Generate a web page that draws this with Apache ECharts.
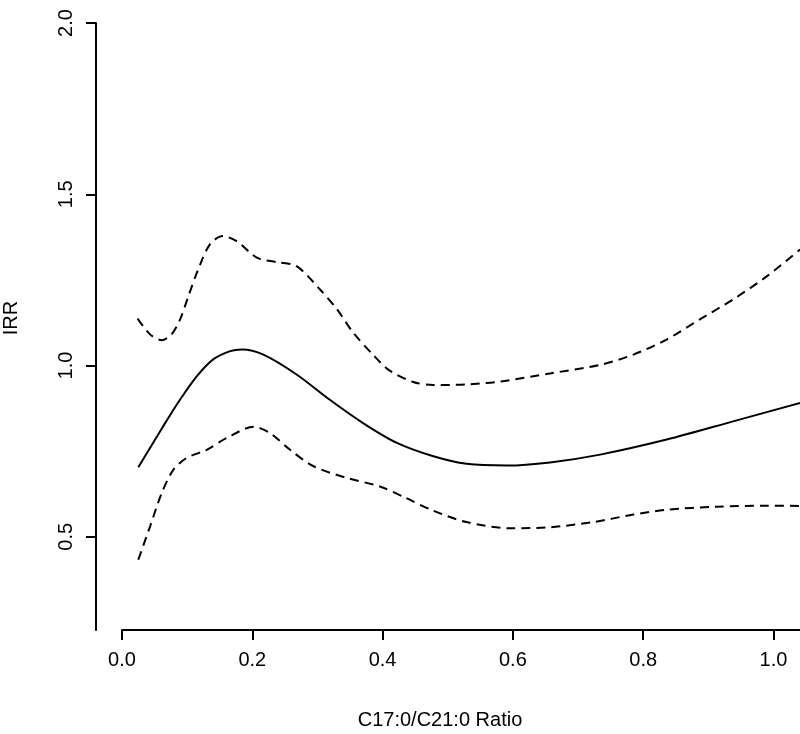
<!DOCTYPE html>
<html>
<head>
<meta charset="utf-8">
<script src="https://cdn.jsdelivr.net/npm/echarts@6/dist/echarts.min.js"></script>
<style>
html,body{margin:0;padding:0;background:#fff;}
#chart{width:800px;height:734px;}
</style>
</head>
<body>
<div id="chart"></div>
<script>
// Fitted IRR curve
const fitX = [0.025, 0.063, 0.089, 0.115, 0.140, 0.166, 0.184, 0.217, 0.268, 0.319, 0.370, 0.422, 0.478, 0.529, 0.591, 0.657, 0.734, 0.836, 0.938, 1.041];
const fitY = [0.703, 0.822, 0.900, 0.969, 1.018, 1.042, 1.047, 1.032, 0.974, 0.900, 0.832, 0.774, 0.735, 0.713, 0.708, 0.717, 0.740, 0.784, 0.837, 0.891];
// Upper confidence bound
const upperX = [0.024, 0.043, 0.061, 0.076, 0.089, 0.102, 0.117, 0.135, 0.155, 0.176, 0.207, 0.237, 0.268, 0.304, 0.330, 0.355, 0.386, 0.411, 0.447, 0.478, 0.529, 0.580, 0.657, 0.734, 0.785, 0.836, 0.887, 0.938, 0.990, 1.041];
const upperY = [1.137, 1.091, 1.074, 1.091, 1.134, 1.203, 1.281, 1.354, 1.378, 1.363, 1.315, 1.302, 1.290, 1.222, 1.164, 1.096, 1.030, 0.985, 0.952, 0.943, 0.945, 0.953, 0.977, 1.002, 1.032, 1.076, 1.135, 1.193, 1.261, 1.339];
// Lower confidence bound
const lowerX = [0.025, 0.043, 0.061, 0.079, 0.099, 0.130, 0.161, 0.202, 0.227, 0.258, 0.294, 0.345, 0.396, 0.434, 0.478, 0.529, 0.596, 0.657, 0.723, 0.785, 0.836, 0.913, 0.990, 1.041];
const lowerY = [0.433, 0.530, 0.628, 0.696, 0.730, 0.754, 0.789, 0.821, 0.803, 0.754, 0.706, 0.672, 0.647, 0.615, 0.576, 0.543, 0.525, 0.528, 0.543, 0.565, 0.579, 0.588, 0.591, 0.590];
// Tick labels
const xTicks = [0.0, 0.2, 0.4, 0.6, 0.8, 1.0];
const yTicks = [0.5, 1.0, 1.5, 2.0];
const xTitle = 'C17:0/C21:0 Ratio';
const yTitle = 'IRR';

const zip = (xs, ys) => xs.map((x, i) => [x, ys[i]]);
const FONT = 'Liberation Sans, Arial, Helvetica, sans-serif';

const chart = echarts.init(document.getElementById('chart'), null, {renderer: 'canvas'});
chart.setOption({
  animation: false,
  backgroundColor: '#ffffff',
  grid: {left: 122, right: 0, top: 23, bottom: 104, containLabel: false},
  xAxis: {
    type: 'value', min: 0, max: 1.0407,
    axisLine: {show: true, onZero: false, lineStyle: {color: '#000', width: 2}},
    axisTick: {show: true, inside: false, length: 10, customValues: xTicks, lineStyle: {color: '#000', width: 2}},
    axisLabel: {customValues: xTicks, margin: 20, color: '#000', fontSize: 20, fontFamily: FONT,
      formatter: v => v.toFixed(1)},
    splitLine: {show: false}
  },
  yAxis: {
    type: 'value', min: 0.228, max: 2.0, offset: 26,
    axisLine: {show: true, onZero: false, lineStyle: {color: '#000', width: 2}},
    axisTick: {show: true, inside: false, length: 10, customValues: yTicks, lineStyle: {color: '#000', width: 2}},
    axisLabel: {customValues: yTicks, margin: 20, rotate: 90, color: '#000', fontSize: 20, fontFamily: FONT,
      formatter: v => v.toFixed(1)},
    splitLine: {show: false}
  },
  graphic: [
    {type: 'text', x: 440, y: 720, style: {text: xTitle, fill: '#000', font: '20px ' + FONT, align: 'center', verticalAlign: 'middle'}},
    {type: 'text', x: 11, y: 318, rotation: Math.PI / 2, style: {text: yTitle, fill: '#000', font: '20px ' + FONT, align: 'center', verticalAlign: 'middle'}}
  ],
  series: [
    {type: 'line', name: 'fit', data: zip(fitX, fitY), smooth: 0.3, symbol: 'none', clip: true,
      lineStyle: {color: '#000', width: 2, type: 'solid'}},
    {type: 'line', name: 'upper', data: zip(upperX, upperY), smooth: 0.3, symbol: 'none', clip: true,
      lineStyle: {color: '#000', width: 2, type: [9, 6]}},
    {type: 'line', name: 'lower', data: zip(lowerX, lowerY), smooth: 0.3, symbol: 'none', clip: true,
      lineStyle: {color: '#000', width: 2, type: [9, 6]}}
  ]
});
</script>
</body>
</html>
